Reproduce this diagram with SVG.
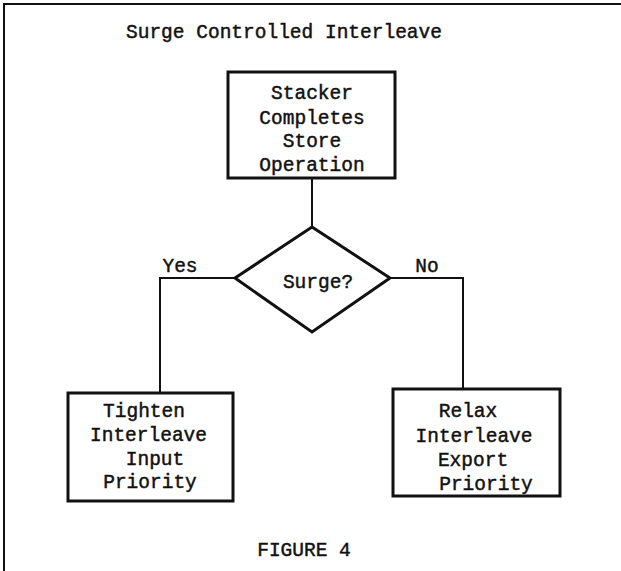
<svg xmlns="http://www.w3.org/2000/svg" width="621" height="571" viewBox="0 0 621 571">
<style>
text{font-family:"Liberation Mono","DejaVu Sans Mono",monospace;font-size:19.5px;fill:#111;stroke:#111;stroke-width:0.45;text-anchor:middle}
.box{fill:#fff;stroke:#111;stroke-width:3}
.ln{fill:none;stroke:#111;stroke-width:2}
</style>
<rect width="621" height="571" fill="#fff"/>
<g id="frame"><path class="ln" d="M4,571 V4 H621" stroke-width="1.5"/></g>
<text x="284" y="38">Surge Controlled Interleave</text>
<g id="connectors">
<path class="ln" d="M312,178 V227"/>
<path class="ln" d="M235,278 H160 V393"/>
<path class="ln" d="M390,278 H463 V389"/>
<text x="180" y="272">Yes</text>
<text x="427" y="272">No</text>
</g>
<g id="start">
<rect class="box" x="228" y="72" width="167" height="106"/>
<text x="312" y="99">Stacker</text>
<text x="312" y="124">Completes</text>
<text x="312" y="147">Store</text>
<text x="312" y="171">Operation</text>
</g>
<g id="surge">
<polygon class="box" points="312,227 390,278 312,332 235,278"/>
<text x="318" y="288">Surge?</text>
</g>
<g id="tighten">
<rect class="box" x="68" y="393" width="165" height="108"/>
<text x="144" y="417">Tighten</text>
<text x="148.5" y="441">Interleave</text>
<text x="155" y="465">Input</text>
<text x="150" y="488">Priority</text>
</g>
<g id="relax">
<rect class="box" x="393" y="389" width="167" height="107"/>
<text x="468" y="417">Relax</text>
<text x="474" y="442">Interleave</text>
<text x="473" y="466">Export</text>
<text x="486" y="490">Priority</text>
</g>
<text x="304" y="556">FIGURE 4</text>
</svg>
